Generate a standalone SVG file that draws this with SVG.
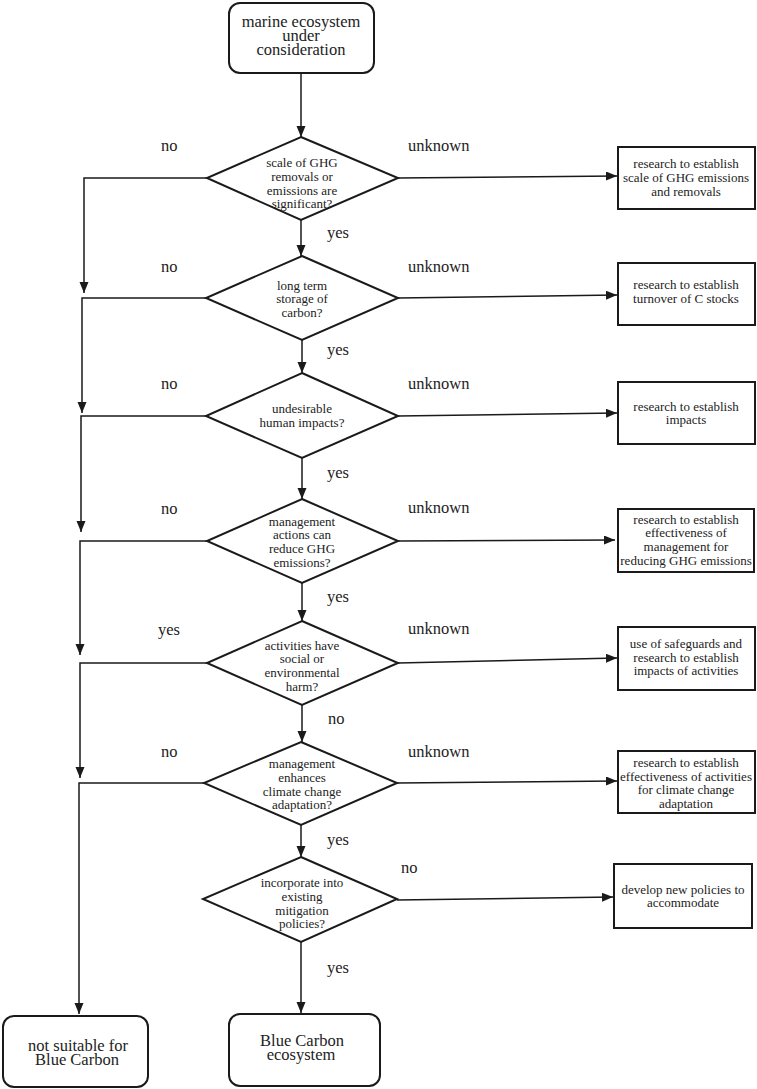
<svg xmlns="http://www.w3.org/2000/svg" width="757" height="1089" viewBox="0 0 757 1089" font-family="Liberation Serif, Times New Roman, serif">
<defs>
<marker id="arr" markerUnits="userSpaceOnUse" markerWidth="12" markerHeight="10" refX="11" refY="4.5" orient="auto">
<path d="M0,0 L11,4.5 L0,9 z" fill="#1a1a1a"/>
</marker>
<style>
.t{text-anchor:middle;fill:#222}
.big{font-size:16.5px}
.sm{font-size:13px}
.lbl{font-size:16.5px;fill:#222}
.dia{fill:#fff;stroke:#1a1a1a;stroke-width:2}
.box{fill:#fff;stroke:#1a1a1a;stroke-width:2}
.con{fill:none;stroke:#1a1a1a;stroke-width:1.5;marker-end:url(#arr)}
</style>
</defs>
<rect width="757" height="1089" fill="#fff"/>
<g id="connectors">
<path class="con" d="M301,73 V137"/>
<path class="con" d="M301,220 V256"/>
<path class="con" d="M302,340 V373"/>
<path class="con" d="M302,458 V499"/>
<path class="con" d="M302,583 V621"/>
<path class="con" d="M302,705 V742"/>
<path class="con" d="M301,825 V857"/>
<path class="con" d="M301,942 V1013"/>
<path class="con" d="M207,178 H84 V293"/>
<path class="con" d="M206,298 H82 V413"/>
<path class="con" d="M206,416 H81 V532"/>
<path class="con" d="M207,541 H80 V655"/>
<path class="con" d="M207,663 H80 V778"/>
<path class="con" d="M204,783 H79 V1014"/>
<path class="con" d="M398,178 L617,176"/>
<path class="con" d="M398,298 L617,295"/>
<path class="con" d="M398,416 L617,413"/>
<path class="con" d="M398,541 L615,540"/>
<path class="con" d="M398,663 L617,658"/>
<path class="con" d="M397,783 L617,781"/>
<path class="con" d="M397,900 L613,897"/>
</g>
<g id="labels" font-family="Liberation Serif">
<text class="lbl" x="161" y="151">no</text>
<text class="lbl" x="408" y="151">unknown</text>
<text class="lbl" x="327" y="238">yes</text>
<text class="lbl" x="161" y="272">no</text>
<text class="lbl" x="408" y="272">unknown</text>
<text class="lbl" x="327" y="355">yes</text>
<text class="lbl" x="161" y="389">no</text>
<text class="lbl" x="408" y="389">unknown</text>
<text class="lbl" x="327" y="478">yes</text>
<text class="lbl" x="161" y="514">no</text>
<text class="lbl" x="408" y="513">unknown</text>
<text class="lbl" x="327" y="602">yes</text>
<text class="lbl" x="158" y="635">yes</text>
<text class="lbl" x="408" y="634">unknown</text>
<text class="lbl" x="328" y="724">no</text>
<text class="lbl" x="161" y="757">no</text>
<text class="lbl" x="408" y="757">unknown</text>
<text class="lbl" x="327" y="845">yes</text>
<text class="lbl" x="401" y="873">no</text>
<text class="lbl" x="327" y="973">yes</text>
</g>
<g id="start" font-family="Liberation Serif">
<rect class="box" x="229" y="3" width="145" height="70" rx="11"/>
<text class="t big" x="301" y="27">marine ecosystem</text>
<text class="t big" x="301" y="41">under</text>
<text class="t big" x="301" y="55">consideration</text>
</g>
<g id="d1" font-family="Liberation Serif">
<polygon class="dia" points="301,137 398,178 301,220 207,178"/>
<text class="t sm" x="302" y="167">scale of GHG</text>
<text class="t sm" x="302" y="181">removals or</text>
<text class="t sm" x="302" y="195">emissions are</text>
<text class="t sm" x="302" y="208">significant?</text>
</g>
<g id="d2" font-family="Liberation Serif">
<polygon class="dia" points="302,256 398,298 302,340 206,298"/>
<text class="t sm" x="302" y="290">long term</text>
<text class="t sm" x="302" y="303">storage of</text>
<text class="t sm" x="302" y="317">carbon?</text>
</g>
<g id="d3" font-family="Liberation Serif">
<polygon class="dia" points="302,373 398,416 302,458 206,416"/>
<text class="t sm" x="302" y="413">undesirable</text>
<text class="t sm" x="302" y="427">human impacts?</text>
</g>
<g id="d4" font-family="Liberation Serif">
<polygon class="dia" points="302,499 398,541 302,583 207,541"/>
<text class="t sm" x="302" y="526">management</text>
<text class="t sm" x="302" y="539">actions can</text>
<text class="t sm" x="302" y="553">reduce GHG</text>
<text class="t sm" x="302" y="567">emissions?</text>
</g>
<g id="d5" font-family="Liberation Serif">
<polygon class="dia" points="302,621 398,663 302,705 207,663"/>
<text class="t sm" x="302" y="650">activities have</text>
<text class="t sm" x="302" y="663">social or</text>
<text class="t sm" x="302" y="677">environmental</text>
<text class="t sm" x="302" y="691">harm?</text>
</g>
<g id="d6" font-family="Liberation Serif">
<polygon class="dia" points="301,742 397,783 301,825 204,783"/>
<text class="t sm" x="302" y="768">management</text>
<text class="t sm" x="302" y="782">enhances</text>
<text class="t sm" x="302" y="796">climate change</text>
<text class="t sm" x="302" y="809">adaptation?</text>
</g>
<g id="d7" font-family="Liberation Serif">
<polygon class="dia" points="301,857 397,899 301,942 203,899"/>
<text class="t sm" x="302" y="887">incorporate into</text>
<text class="t sm" x="302" y="901">existing</text>
<text class="t sm" x="302" y="915">mitigation</text>
<text class="t sm" x="302" y="928">policies?</text>
</g>
<g id="r1" font-family="Liberation Serif">
<rect class="box" x="618" y="147" width="137" height="62"/>
<text class="t sm" x="686" y="168">research to establish</text>
<text class="t sm" x="686" y="182">scale of GHG emissions</text>
<text class="t sm" x="686" y="196">and removals</text>
</g>
<g id="r2" font-family="Liberation Serif">
<rect class="box" x="618" y="263" width="137" height="62"/>
<text class="t sm" x="686" y="289">research to establish</text>
<text class="t sm" x="686" y="303">turnover of C stocks</text>
</g>
<g id="r3" font-family="Liberation Serif">
<rect class="box" x="618" y="382" width="137" height="62"/>
<text class="t sm" x="686" y="411">research to establish</text>
<text class="t sm" x="686" y="424">impacts</text>
</g>
<g id="r4" font-family="Liberation Serif">
<rect class="box" x="618" y="509" width="136" height="63"/>
<text class="t sm" x="686" y="524">research to establish</text>
<text class="t sm" x="686" y="537">effectiveness of</text>
<text class="t sm" x="686" y="551">management for</text>
<text class="t sm" x="686" y="565">reducing GHG emissions</text>
</g>
<g id="r5" font-family="Liberation Serif">
<rect class="box" x="618" y="627" width="137" height="63"/>
<text class="t sm" x="686" y="648">use of safeguards and</text>
<text class="t sm" x="686" y="662">research to establish</text>
<text class="t sm" x="686" y="675">impacts of activities</text>
</g>
<g id="r6" font-family="Liberation Serif">
<rect class="box" x="618" y="751" width="137" height="62"/>
<text class="t sm" x="686" y="767">research to establish</text>
<text class="t sm" x="686" y="781">effectiveness of activities</text>
<text class="t sm" x="686" y="794">for climate change</text>
<text class="t sm" x="686" y="808">adaptation</text>
</g>
<g id="r7" font-family="Liberation Serif">
<rect class="box" x="614" y="864" width="138" height="64"/>
<text class="t sm" x="683" y="894">develop new policies to</text>
<text class="t sm" x="683" y="907">accommodate</text>
</g>
<g id="notsuitable" font-family="Liberation Serif">
<rect class="box" x="3" y="1016" width="145" height="71" rx="11"/>
<text class="t big" x="78" y="1051">not suitable for</text>
<text class="t big" x="77" y="1065">Blue Carbon</text>
</g>
<g id="bluecarbon" font-family="Liberation Serif">
<rect class="box" x="229" y="1014" width="151" height="72" rx="11"/>
<text class="t big" x="302" y="1046">Blue Carbon</text>
<text class="t big" x="301" y="1060">ecosystem</text>
</g>
</svg>
